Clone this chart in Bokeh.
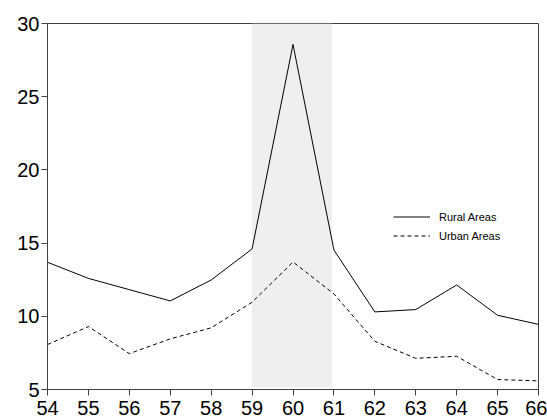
from bokeh.plotting import figure
from bokeh.models import FixedTicker, Legend, LegendItem, BoxAnnotation, Range1d
from bokeh.embed import file_html
from bokeh.resources import INLINE

years = [54, 55, 56, 57, 58, 59, 60, 61, 62, 63, 64, 65, 66]
rural = [13.69, 12.59, 11.82, 11.05, 12.48, 14.60, 28.57, 14.53, 10.30, 10.46, 12.14, 10.07, 9.45]
urban = [8.07, 9.30, 7.45, 8.46, 9.21, 10.96, 13.71, 11.53, 8.29, 7.13, 7.27, 5.68, 5.59]
y_ticks = [5, 10, 15, 20, 25, 30]
band = (59, 60.95)

p = figure(width=547, height=420, output_backend="svg", toolbar_location=None,
           x_range=Range1d(54, 66), y_range=Range1d(5, 30))
p.min_border_left = 47
p.min_border_right = 9
p.min_border_top = 23
p.min_border_bottom = 31
p.background_fill_color = "white"
p.border_fill_color = "white"
p.outline_line_color = "#404040"
p.outline_line_width = 1
p.grid.visible = False

p.add_layout(BoxAnnotation(left=band[0], right=band[1], bottom=5.15, top=30,
                           fill_color="#efefef", fill_alpha=1, line_color=None, level="underlay"))

r1 = p.line(years, rural, line_color="black", line_width=1)
r2 = p.line(years, urban, line_color="black", line_width=1, line_dash="4 3")

for ax in (p.xaxis[0], p.yaxis[0]):
    ax.axis_line_color = "#404040"
    ax.major_tick_line_color = "#404040"
    ax.major_tick_in = 0
    ax.major_tick_out = 6
    ax.minor_tick_line_color = None
    ax.major_label_text_font = "Liberation Sans"
    ax.major_label_text_font_size = "20px"
    ax.major_label_text_color = "black"

p.xaxis.ticker = FixedTicker(ticks=years)
p.yaxis.ticker = FixedTicker(ticks=y_ticks)
p.xaxis.major_label_standoff = 5
p.yaxis.major_label_standoff = 2

legend = Legend(items=[LegendItem(label="Rural Areas", renderers=[r1]),
                       LegendItem(label="Urban Areas", renderers=[r2])],
                location=(346, 144), orientation="vertical")
legend.background_fill_alpha = 0
legend.border_line_color = None
legend.padding = 0
legend.margin = 0
legend.spacing = 0
legend.glyph_width = 37
legend.glyph_height = 19
legend.label_height = 19
legend.label_standoff = 9
legend.label_text_font = "Liberation Sans"
legend.label_text_font_size = "11px"
legend.label_text_color = "black"
p.add_layout(legend, "center")

open("out.html", "w").write(file_html(p, INLINE))
